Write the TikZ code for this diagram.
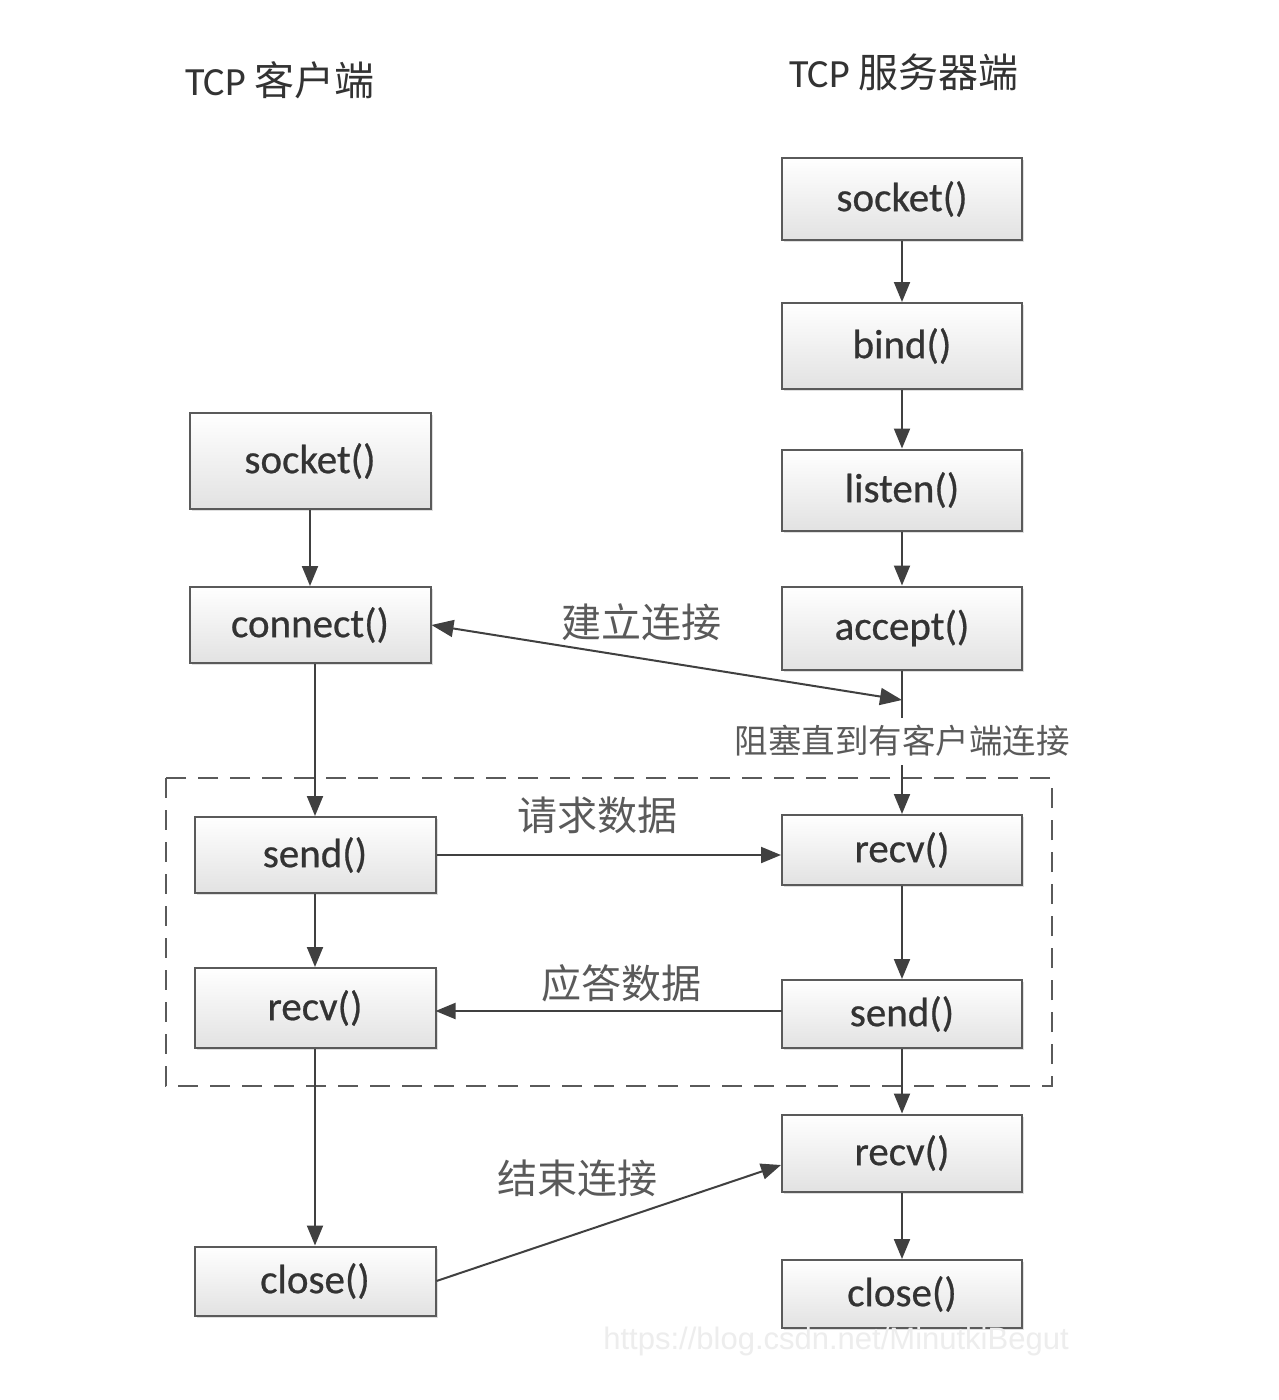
\documentclass[tikz,border=0pt]{standalone}
\usepackage{fontspec}
\setmainfont{Carlito}
\newfontfamily\boxfont[FakeBold=0.6]{Carlito}
\newfontfamily\cjk{Noto Sans CJK SC}
\newfontfamily\wmfont{Liberation Sans}
\usetikzlibrary{arrows.meta,shadows,calc}
\definecolor{linec}{HTML}{404040}
\definecolor{boxborder}{HTML}{5A5A5A}
\definecolor{boxtext}{HTML}{333333}
\definecolor{labtext}{HTML}{5A5A5A}
\definecolor{boxbottom}{HTML}{E2E2E2}
\tikzset{
  fbox/.style={draw=boxborder, line width=2pt, top color=white, bottom color=boxbottom,
    drop shadow={opacity=0.25, shadow xshift=2pt, shadow yshift=-2pt},
    minimum width=240pt, inner sep=0pt, text=boxtext,
    font=\boxfont\fontsize{41}{48}\selectfont},
  conn/.style={draw=linec, line width=2pt, -{Triangle[length=20pt,width=16pt]}},
  biconn/.style={draw=linec, line width=2pt, {Triangle[length=22pt,width=17pt]}-{Triangle[length=22pt,width=17pt]}},
  plainline/.style={draw=linec, line width=2pt},
  lab/.style={text=labtext, inner sep=2pt, font=\cjk\fontsize{40}{46}\selectfont},
  ttl/.style={text=boxtext, inner sep=0pt, font=\fontsize{40}{46}\selectfont},
}
\begin{document}
\begin{tikzpicture}[x=1pt,y=-1pt]
\useasboundingbox[fill=white] (0,0) rectangle (1278,1400);

% dashed frame
\draw[draw=boxborder, line width=2pt, dash pattern=on 20pt off 12pt] (166,778) rectangle (1052,1086);

% titles
\node[ttl] (tcli) at (280,80) {TCP {\cjk 客户端}};
\node[ttl] (tsrv) at (904,72) {TCP {\cjk 服务器端}};

% server column
\node[fbox, minimum height=82pt] (ssock) at (902,199) {socket()};
\node[fbox, minimum height=86pt] (sbind) at (902,346) {bind()};
\node[fbox, minimum height=81pt] (slisten) at (902,490) {listen()};
\node[fbox, minimum height=83pt] (saccept) at (902,628) {accept()};
\node[fbox, minimum height=70pt] (srecva) at (902,850) {recv()};
\node[fbox, minimum height=68pt] (ssend) at (902,1014) {send()};
\node[fbox, minimum height=77pt] (srecvb) at (902,1153) {recv()};
\node[fbox, minimum height=68pt] (sclose) at (902,1294) {close()};

% client column
\node[fbox, minimum width=241pt, minimum height=96pt] (csock) at (310,461) {socket()};
\node[fbox, minimum width=241pt, minimum height=76pt] (cconn) at (310,625) {connect()};
\node[fbox, minimum width=241pt, minimum height=76pt] (csend) at (315,855) {send()};
\node[fbox, minimum width=241pt, minimum height=80pt] (crecv) at (315,1008) {recv()};
\node[fbox, minimum width=241pt, minimum height=69pt] (cclose) at (315,1281) {close()};

% labels
\node[lab] (lconn) at (641,622) {建立连接};
\node[lab] (lreq) at (597,815) {请求数据};
\node[lab] (lans) at (621,983) {应答数据};
\node[lab] (lend) at (577,1178) {结束连接};
\node[lab, font=\cjk\fontsize{33.5}{38}\selectfont, inner sep=0pt] (lblock) at (902,741) {阻塞直到有客户端连接};

\node[text=black!7, font=\wmfont\fontsize{31}{36}\selectfont, inner sep=0pt] (wm) at (836,1341) {https://blog.csdn.net/MinutkiBegut};

% server arrows
\draw[conn] (ssock) -- (sbind);
\draw[conn] (sbind) -- (slisten);
\draw[conn] (slisten) -- (saccept);
\coordinate (meet) at (902,700);
\coordinate (blocktop) at (902,718);
\coordinate (blockbot) at (902,765);
\draw[plainline] (saccept.south) -- (blocktop);
\draw[conn] (blockbot) -- (srecva.north);
\draw[conn] (srecva) -- (ssend);
\draw[conn] (ssend) -- (srecvb);
\draw[conn] (srecvb) -- (sclose);

% client arrows
\draw[conn] (csock) -- (cconn);
\draw[conn] (cconn.south -| csend.north) -- (csend.north);
\draw[conn] (csend) -- (crecv);
\draw[conn] (crecv) -- (cclose);

% cross arrows
\coordinate (ansstart) at (782,1011);
\coordinate (ansend) at (435.5,1011);
\coordinate (endtip) at (781,1165);
\draw[biconn] (cconn.east) -- (meet);
\draw[conn] (csend.east) -- (csend.east -| srecva.west);
\draw[conn] (ansstart) -- (ansend);
\draw[conn] (cclose.east) -- (endtip);
\end{tikzpicture}
\end{document}
